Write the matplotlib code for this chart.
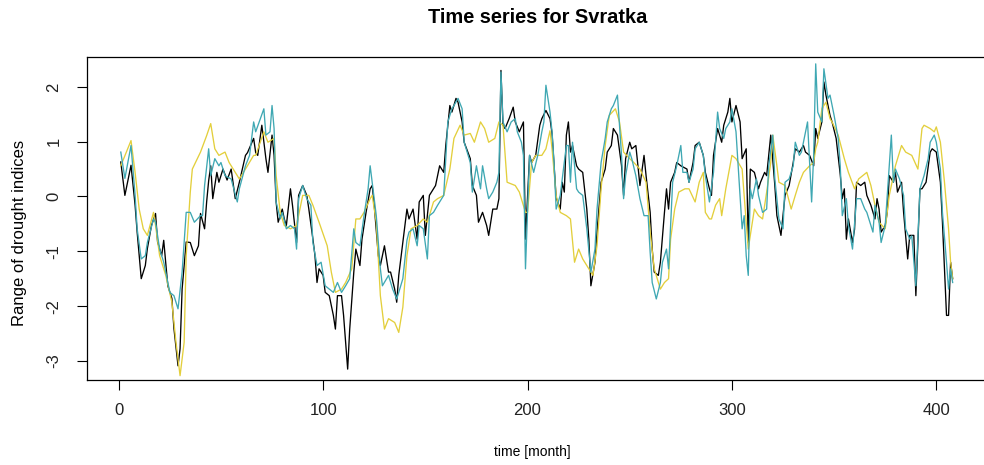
import matplotlib
matplotlib.use("Agg")
import matplotlib.pyplot as plt

plt.rcParams["font.family"] = ["Liberation Sans", "DejaVu Sans"]

# Index values (month, value) for the Svratka catchment
black_months = [1, 3, 6, 8, 9, 11, 13, 14, 16, 18, 19, 21, 22, 24, 26, 27, 29, 30, 31, 33,
                35, 37, 39, 40, 42, 43, 44, 45, 46, 48, 49, 51, 53, 55, 57, 59, 62, 63, 66, 67,
                68, 70, 72, 73, 75, 76, 77, 78, 80, 81, 82, 84, 85, 87, 88, 90, 92, 93, 95, 96,
                97, 98, 100, 101, 103, 105, 106, 107, 109, 110, 112, 113, 115, 116, 118, 119, 121, 123, 124, 125,
                127, 128, 130, 132, 133, 135, 136, 137, 139, 141, 142, 144, 146, 147, 149, 150, 152, 154, 155, 157,
                159, 160, 162, 163, 165, 166, 168, 169, 172, 173, 175, 176, 178, 180, 181, 183, 185, 186, 187, 188,
                189, 191, 193, 194, 196, 198, 199, 201, 202, 204, 206, 207, 209, 211, 212, 214, 216, 217, 218, 219,
                220, 221, 222, 224, 225, 227, 229, 230, 231, 233, 234, 236, 238, 239, 241, 242, 244, 246, 247, 248,
                250, 251, 253, 255, 257, 258, 260, 261, 262, 264, 265, 267, 268, 269, 270, 272, 273, 275, 278, 279,
                281, 282, 284, 286, 287, 289, 290, 291, 293, 295, 296, 298, 299, 300, 302, 304, 305, 307, 308, 309,
                311, 313, 314, 316, 317, 319, 321, 322, 324, 326, 328, 330, 331, 333, 335, 336, 338, 340, 341, 342,
                344, 345, 346, 348, 349, 351, 353, 354, 355, 356, 357, 359, 360, 361, 363, 365, 366, 368, 370, 371,
                372, 373, 375, 376, 377, 379, 380, 381, 383, 384, 386, 387, 389, 390, 392, 393, 395, 397, 398, 400,
                402, 403, 404, 405, 406, 407, 408]
black_values = [0.63, 0.02, 0.57, -0.16, -0.65, -1.5, -1.26, -0.95, -0.53, -0.31, -0.83, -1.08, -0.8, -1.63, -1.86, -2.41, -3.09, -2.78, -1.69, -0.83,
                -0.84, -1.08, -0.9, -0.31, -0.59, -0.1, 0.29, 0.56, -0.04, 0.44, 0.26, 0.5, 0.3, 0.5, -0.04, 0.26, 0.75, 0.8, 1.06, 0.8,
                0.75, 1.3, 0.69, 0.44, 1.12, 0.75, -0.1, -0.47, -0.23, -0.41, -0.53, 0.14, -0.16, -0.84, 0.02, 0.2, 0.02, -0.23, -0.78, -1.08,
                -1.57, -1.32, -1.44, -1.75, -1.81, -2.17, -2.42, -1.81, -1.81, -2.17, -3.15, -2.42, -1.38, -0.96, -1.26, -0.78, -0.29, 0.14, 0.2, -0.16,
                -1.08, -1.26, -0.9, -1.38, -1.38, -1.69, -1.93, -1.44, -0.84, -0.23, -0.41, -0.23, -0.78, -0.1, 0.02, -0.71, 0.02, 0.14, 0.2, 0.56,
                0.44, 0.93, 1.66, 1.54, 1.79, 1.72, 1.36, 0.99, 0.69, 0.2, 0.02, -0.47, -0.29, -0.53, -0.71, -0.23, -0.23, -0.04, 2.3, 1.3,
                1.24, 1.42, 1.63, 1.36, 1.18, 1.36, -0.78, 0.75, 0.62, 0.75, 1.3, 1.42, 1.57, 1.42, 1.15, -0.02, -0.23, 0.26, 0.08, 1.12,
                1.36, 0.81, 0.93, 0.56, 0.5, 0.44, -0.23, -0.78, -1.63, -1.2, -0.65, 0.26, 0.5, 0.81, 0.93, 1.24, 1.12, 0.56, 0.02, 0.69,
                0.99, 0.87, 0.93, 0.2, 0.75, 0.38, -0.29, -0.96, -1.38, -1.44, -1.2, -0.29, 0.14, -0.23, 0.26, 0.44, 0.62, 0.56, 0.5, 0.26,
                0.62, 0.93, 0.99, 0.75, 0.44, 0.14, 0.02, 0.75, 1.24, 0.99, 1.3, 1.54, 1.79, 1.36, 1.66, 1.36, 0.69, 0.87, -0.84, 0.5,
                0.44, 0.14, 0.26, 0.44, 0.38, 1.12, 0.2, -0.35, -0.71, 0.02, 0.2, 0.62, 0.87, 0.81, 0.93, 0.81, 0.75, 0.56, 1.24, 1.06,
                1.36, 2.09, 1.85, 1.48, 1.36, 1.06, 0.4, -0.04, 0.14, -0.78, -0.41, -0.84, -0.6, 0.26, 0.2, 0.26, 0.02, -0.16, -0.41, -0.04,
                -0.23, -0.65, -0.53, -0.29, 0.38, 0.26, 0.44, 0.08, 0.26, -0.29, -1.14, -0.71, -0.71, -1.81, 0.14, 0.14, 0.26, 0.81, 0.87, 0.81,
                0.26, -0.47, -1.32, -2.17, -2.17, -1.2, -1.5]

teal_months = [1, 3, 6, 8, 9, 11, 13, 14, 17, 18, 20, 22, 25, 27, 29, 31, 33, 35, 37, 40,
               41, 42, 44, 45, 47, 49, 50, 52, 55, 58, 59, 62, 64, 66, 67, 71, 72, 74, 75, 76,
               77, 79, 80, 82, 84, 86, 87, 88, 90, 92, 94, 95, 97, 99, 101, 105, 107, 109, 111, 113,
               115, 116, 118, 120, 122, 123, 124, 126, 128, 129, 132, 134, 136, 137, 139, 141, 142, 144, 146, 147,
               149, 151, 152, 154, 156, 158, 159, 161, 163, 164, 166, 168, 169, 172, 173, 175, 177, 178, 180, 181,
               183, 185, 186, 187, 188, 190, 192, 194, 195, 197, 198, 199, 201, 203, 205, 207, 208, 209, 211, 212,
               213, 214, 216, 217, 219, 220, 221, 222, 224, 225, 227, 229, 231, 233, 234, 236, 238, 239, 241, 242,
               244, 246, 247, 248, 250, 251, 253, 255, 257, 259, 260, 261, 263, 265, 266, 268, 269, 271, 273, 275,
               276, 278, 279, 281, 282, 284, 286, 287, 289, 291, 293, 294, 296, 297, 299, 300, 302, 304, 305, 306,
               307, 308, 309, 310, 312, 313, 315, 317, 318, 320, 321, 323, 325, 326, 328, 330, 331, 333, 334, 335,
               337, 339, 340, 341, 342, 344, 345, 347, 348, 350, 352, 353, 354, 356, 357, 359, 361, 363, 365, 366,
               369, 370, 372, 373, 375, 376, 378, 379, 380, 382, 384, 385, 387, 388, 390, 392, 394, 396, 397, 399,
               400, 402, 403, 405, 406, 407, 408]
teal_values = [0.81, 0.33, 0.93, 0.02, -0.59, -1.14, -1.08, -0.84, -0.41, -0.47, -0.96, -1.2, -1.75, -1.81, -2.05, -1.38, -0.29, -0.29, -0.47, -0.35,
               -0.35, 0.2, 0.87, 0.38, 0.69, 0.56, 0.62, 0.38, 0.32, -0.1, 0.14, 0.56, 0.75, 1.36, 1.18, 1.6, 1.12, 1.18, 1.66, 1.24,
               -0.1, -0.41, -0.29, -0.59, -0.53, -0.59, -0.96, -0.04, 0.2, -0.04, -0.16, -0.84, -1.26, -1.2, -1.63, -1.75, -1.57, -1.75, -1.63, -1.5,
               -0.59, -0.84, -0.9, -0.35, 0.14, 0.56, 0.26, -0.35, -1.32, -1.63, -1.44, -1.69, -1.87, -1.75, -1.5, -0.8, -0.65, -0.59, -0.9, -0.53,
               -0.59, -1.14, -0.35, -0.29, -0.16, -0.04, 0.02, 1.36, 1.6, 1.66, 1.79, 1.6, 0.99, 0.62, 0.08, 0.56, 0.14, 0.56, 0.14, -0.04,
               0.08, 0.26, 0.44, 2.27, 1.36, 1.18, 1.36, 1.42, 1.18, 0.99, 0.75, -1.32, 0.75, 0.44, 0.75, 1.18, 1.36, 2.03, 1.54, 1.18,
               0.6, -0.23, 0.02, 0.32, 0.93, 0.93, 0.26, 0.99, 0.14, 0.08, 0.02, -0.59, -1.38, -0.96, -0.23, 0.62, 1.06, 1.36, 1.6, 1.66,
               1.85, 0.75, -0.04, 0.38, 0.81, 0.69, 0.38, -0.04, -0.35, -0.35, -1.02, -1.57, -1.87, -1.57, -1.2, -0.96, -1.32, 0.26, 0.56, 0.93,
               0.44, 0.44, 0.26, 0.5, 0.87, 0.99, 0.75, 0.38, -0.1, 0.44, 1.54, 1.24, 1.06, 1.24, 1.36, 1.6, 1.18, 0.02, -0.59, -0.35,
               -1.08, -1.44, 0.14, -0.04, 0.32, 0.02, -0.29, -0.23, 0.56, 1.12, 0.32, -0.41, -0.59, 0.26, 0.32, 0.56, 0.99, 0.75, 0.81, 0.99,
               1.36, -0.1, 0.75, 2.42, 1.54, 1.36, 2.33, 1.79, 1.85, 1.48, 1.06, 0.56, -0.35, -0.04, -0.53, -0.96, -0.04, -0.04, -0.23, -0.29,
               -0.65, -0.16, -0.47, -0.84, -0.53, 0.02, 1.12, 0.26, 0.5, 0.32, 0.02, -0.59, -0.78, -0.72, -1.63, 0.14, 0.38, 0.69, 0.99, 1.12,
               0.99, 0.5, -0.29, -1.2, -1.69, -1.32, -1.57]

yellow_months = [1, 6, 8, 10, 12, 14, 17, 18, 20, 23, 26, 28, 30, 32, 33, 35, 36, 40, 43, 45,
                 47, 49, 52, 54, 57, 59, 62, 66, 67, 71, 73, 76, 77, 79, 81, 84, 87, 90, 93, 95,
                 98, 102, 104, 106, 109, 111, 114, 116, 118, 120, 123, 124, 126, 128, 130, 132, 135, 137, 139, 141,
                 143, 146, 149, 151, 154, 156, 159, 162, 164, 167, 169, 172, 174, 177, 179, 181, 184, 186, 188, 190,
                 194, 196, 199, 200, 202, 204, 207, 209, 211, 212, 214, 216, 219, 221, 223, 225, 227, 230, 232, 234,
                 236, 238, 240, 243, 245, 247, 250, 252, 255, 258, 260, 262, 265, 267, 269, 270, 272, 274, 277, 279,
                 282, 284, 286, 287, 289, 290, 292, 294, 295, 297, 300, 302, 305, 306, 308, 309, 311, 313, 315, 317,
                 319, 320, 322, 323, 326, 329, 331, 333, 335, 338, 340, 341, 342, 344, 346, 348, 349, 352, 355, 357,
                 360, 362, 366, 368, 370, 372, 375, 377, 380, 383, 385, 388, 391, 393, 394, 397, 399, 400, 402, 404,
                 406, 407, 408]
yellow_values = [0.56, 1.02, 0.44, -0.23, -0.59, -0.71, -0.29, -0.53, -1.08, -1.44, -1.93, -2.66, -3.27, -2.66, -1.08, 0.08, 0.5, 0.81, 1.11, 1.33,
                 0.87, 0.75, 0.81, 0.62, 0.44, 0.32, 0.5, 0.75, 0.75, 1.18, 0.99, 1.06, 0.38, -0.29, -0.53, -0.59, -0.53, 0.02, 0.02, -0.16,
                 -0.47, -0.9, -1.38, -1.75, -1.69, -1.57, -1.32, -0.41, -0.41, -0.29, -0.04, 0.02, -0.47, -1.81, -2.42, -2.23, -2.3, -2.48, -2.02, -1.08,
                 -0.59, -0.53, -0.41, -0.47, -0.1, -0.04, 0.02, 0.5, 1.06, 1.3, 1.12, 1.15, 0.99, 1.36, 1.24, 0.99, 1.06, 1.36, 1.3, 0.26,
                 0.2, 0.08, -0.29, -0.29, 0.62, 0.75, 0.75, 0.87, 1.2, 0.87, 0.02, -0.29, -0.35, -0.41, -1.2, -0.96, -1.14, -1.32, -1.44, -0.9,
                 0.14, 0.93, 1.48, 1.6, 1.36, 0.81, 0.69, 0.62, 0.5, 0.26, -0.65, -1.32, -1.69, -1.57, -1.5, -0.78, -0.23, 0.08, 0.14, 0.14,
                 -0.1, 0.26, 0.44, -0.29, -0.41, -0.41, -0.16, -0.04, -0.35, 0.14, 0.75, 0.69, 0.5, 0.02, -0.96, -0.71, -0.23, -0.35, -0.41, 0.08,
                 0.62, 1.12, 0.56, 0.26, 0.2, -0.23, 0.02, 0.26, 0.44, 0.56, 0.62, 0.87, 0.99, 1.6, 1.72, 1.42, 1.36, 1.12, 0.69, 0.44,
                 0.14, 0.32, 0.44, 0.2, -0.16, -0.47, -0.59, 0.02, 0.56, 0.93, 0.81, 0.75, 0.5, 1.24, 1.3, 1.24, 1.18, 1.27, 0.99, 0.26,
                 -0.59, -1.2, -1.5]

x_ticks = [0, 100, 200, 300, 400]
y_ticks = [-3, -2, -1, 0, 1, 2]

fig = plt.figure(figsize=(9.84, 4.65), dpi=100)
ax = fig.add_axes([0.0889, 0.1828, 0.9131, 0.6953])

ax.plot(black_months, black_values, color="black", lw=0.95, zorder=2)
ax.plot(yellow_months, yellow_values, color="#E3CF3C", lw=0.95, zorder=3)
ax.plot(teal_months, teal_values, color="#3FA8B3", lw=0.95, zorder=4)

ax.set_xlim(-15.3, 424.3)
ax.set_ylim(-3.349, 2.551)
ax.set_xticks(x_ticks)
ax.set_xticklabels([str(t) for t in x_ticks], fontsize=12, color="#222222")
ax.set_yticks(y_ticks)
ax.set_yticklabels([str(t) for t in y_ticks], fontsize=12, color="#222222",
                   rotation=90, va="center")
ax.tick_params(axis="x", length=7.2, width=0.8, pad=9.5, direction="out")
ax.tick_params(axis="y", length=7.2, width=0.8, pad=11.5, direction="out")
for side in ax.spines.values():
    side.set_linewidth(0.9)
    side.set_color("black")

fig.text(0.5467, 0.963, "Time series for Svratka", ha="center", va="center",
         fontsize=14.4, fontweight="bold")
fig.text(0.5405, 0.028, "time [month]", ha="center", va="center", fontsize=10)
fig.text(0.020, 0.5, "Range of drought indices", ha="center", va="center",
         rotation=90, fontsize=12)

fig.savefig("out.png", dpi=100)
